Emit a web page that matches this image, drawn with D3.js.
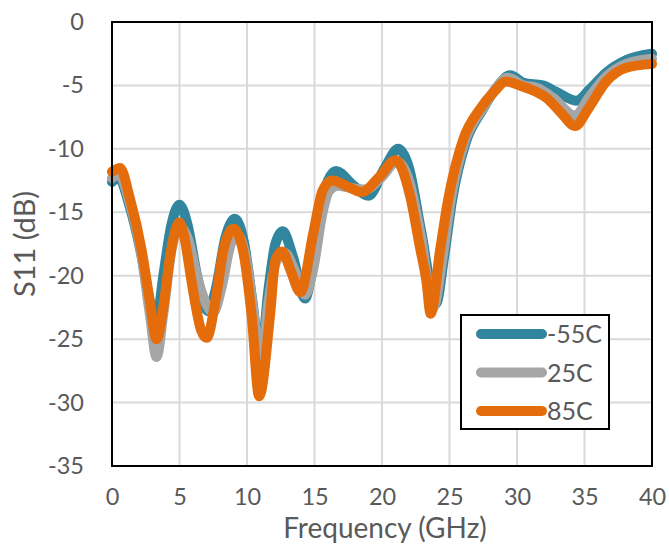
<!DOCTYPE html>
<html><head><meta charset="utf-8">
<script src="https://cdn.jsdelivr.net/npm/d3@7"></script>
<style>body{margin:0;background:#fff}svg{display:block}text{font-family:Lato,"Open Sans",sans-serif;fill:#595959}</style>
</head><body>
<script>
const seriesNames = ["-55C", "25C", "85C"];
const seriesColors = ["#31859C", "#A5A5A5", "#E46C0A"];
const xTicks = [0,5,10,15,20,25,30,35,40];
const yTicks = [0,-5,-10,-15,-20,-25,-30,-35];

const freqM55 = [0,0.5,1.3,2.2,2.8,3.25,3.8,4.4,5.0,5.6,6.3,7.1,7.7,8.4,9.1,9.8,10.4,11.0,11.6,12.1,12.65,13.4,14.3,14.9,15.5,16.0,16.6,17.8,19.0,20.2,21.2,22.0,22.9,24.0,24.6,25.2,26.2,27.4,28.4,29.5,30.5,31.9,32.9,34.4,35.4,36.6,38.1,40];
const s11M55 = [-12.6,-12.3,-14.5,-18.5,-22.0,-23.8,-20.0,-16.0,-14.4,-16.0,-20.0,-22.8,-21.0,-17.0,-15.5,-17.5,-22.0,-26.5,-21.0,-17.5,-16.5,-18.5,-21.8,-19.0,-14.5,-12.5,-11.75,-12.8,-13.7,-11.5,-10.0,-11.5,-16.5,-22.2,-18.5,-14.0,-9.5,-7.0,-5.3,-4.2,-4.8,-5.0,-5.5,-6.2,-5.3,-4.0,-3.0,-2.5];

const freq25 = [0,0.5,1.3,2.2,2.8,3.3,3.8,4.4,5.0,5.6,6.4,7.5,8.1,8.8,9.3,9.9,10.5,11.0,11.6,12.2,12.8,13.5,14.3,14.9,15.6,16.1,16.7,17.8,18.8,20.0,21.1,22.0,22.9,23.8,24.5,25.1,26.1,27.4,28.4,29.3,30.5,31.5,32.7,34.3,35.3,36.6,38.1,40];
const s1125 = [-12.3,-12.0,-14.2,-18.5,-23.0,-26.4,-23.0,-18.0,-16.1,-17.0,-20.5,-22.9,-21.0,-17.5,-16.8,-18.5,-23.0,-27.0,-22.0,-18.8,-18.2,-19.5,-21.5,-19.5,-15.0,-13.3,-12.9,-13.1,-13.2,-12.2,-11.0,-12.5,-17.0,-22.5,-18.5,-14.0,-9.5,-6.9,-5.3,-4.4,-5.0,-5.2,-6.0,-7.4,-6.0,-4.3,-3.3,-2.9];

const freq85 = [0,0.6,1.3,2.2,2.8,3.3,3.8,4.3,5.0,5.4,5.9,6.6,7.0,7.75,8.25,9.0,9.7,10.35,10.9,11.7,12.1,12.6,13.2,13.95,14.9,15.6,16.3,17.5,18.5,19.8,21.0,22.1,22.8,23.3,23.6,24.3,24.9,26.0,27.3,28.3,29.2,30.2,31.2,32.2,33.3,34.3,35.3,36.6,38.1,40];
const s1185 = [-11.8,-11.5,-13.8,-18.0,-22.0,-25.0,-22.5,-18.5,-15.8,-17.2,-20.5,-24.3,-24.9,-21.4,-18.0,-16.3,-18.0,-23.2,-29.5,-23.2,-18.8,-18.1,-19.5,-21.3,-16.7,-13.3,-12.5,-13.0,-13.4,-12.2,-10.9,-13.8,-17.7,-20.5,-23.0,-18.0,-14.0,-9.3,-6.8,-5.5,-4.7,-5.0,-5.4,-6.0,-7.2,-8.2,-6.8,-4.7,-3.6,-3.3];

const seriesX = [freqM55, freq25, freq85];
const seriesY = [s11M55, s1125, s1185];

const W = 669, H = 546;
const m = {left:112, top:22, right:W-652, bottom:H-466};
const svg = d3.select("body").append("svg").attr("width", W).attr("height", H);

const x = d3.scaleLinear().domain([0,40]).range([m.left, W-m.right]);
const y = d3.scaleLinear().domain([-35,0]).range([H-m.bottom, m.top]);

// gridlines
svg.append("g").selectAll("line").data(xTicks.slice(1,-1)).join("line")
  .attr("x1", d=>x(d)).attr("x2", d=>x(d)).attr("y1", y(0)).attr("y2", y(-35))
  .attr("stroke", "#D9D9D9").attr("stroke-width", 2);
svg.append("g").selectAll("line").data(yTicks.slice(1,-1)).join("line")
  .attr("y1", d=>y(d)).attr("y2", d=>y(d)).attr("x1", x(0)).attr("x2", x(40))
  .attr("stroke", "#D9D9D9").attr("stroke-width", 2);

// axes (labels only)
const fmt = d => String(d);
const xAxis = svg.append("g").attr("transform", `translate(0,${y(-35)})`)
  .call(d3.axisBottom(x).tickValues(xTicks).tickFormat(fmt).tickSize(0).tickPadding(22));
const yAxis = svg.append("g").attr("transform", `translate(${x(0)},0)`)
  .call(d3.axisLeft(y).tickValues(yTicks).tickFormat(fmt).tickSize(0).tickPadding(28));
[xAxis, yAxis].forEach(a => {
  a.select(".domain").remove();
  a.selectAll("text").style("font-size", "23.5px").attr("fill", "#595959")
    .style("font-family", "Lato, 'Open Sans', sans-serif");
});

// lines
const line = d3.line().x(d=>x(d[0])).y(d=>y(d[1])).curve(d3.curveMonotoneX);
seriesNames.forEach((n,i) => {
  const pts = seriesX[i].map((f,j)=>[f, seriesY[i][j]]);
  svg.append("path").datum(pts).attr("d", line)
    .attr("fill","none").attr("stroke", seriesColors[i]).attr("stroke-width", 10)
    .attr("stroke-linejoin","round").attr("stroke-linecap","round");
});

// plot border
svg.append("rect").attr("x", x(0)).attr("y", y(0)).attr("width", x(40)-x(0)).attr("height", y(-35)-y(0))
  .attr("fill","none").attr("stroke","#000").attr("stroke-width",2);

// axis titles
svg.append("text").attr("x", 385).attr("y", 538).attr("text-anchor","middle")
  .style("font-size","28px").text("Frequency (GHz)");
svg.append("text").attr("transform","translate(35,244) rotate(-90)").attr("text-anchor","middle")
  .style("font-size","29px").text("S11 (dB)");

// legend
const lg = svg.append("g");
lg.append("rect").attr("x",461).attr("y",315).attr("width",148).attr("height",114)
  .attr("fill","#fff").attr("stroke","#000").attr("stroke-width",2);
seriesNames.forEach((n,i) => {
  const ly = 334 + i*38.5;
  lg.append("line").attr("x1",481).attr("x2",542).attr("y1",ly).attr("y2",ly)
    .attr("stroke",seriesColors[i]).attr("stroke-width",10).attr("stroke-linecap","round");
  lg.append("text").attr("x",547).attr("y",ly).attr("dy","0.36em").style("font-size","25px").text(n);
});
</script>
</body></html>
